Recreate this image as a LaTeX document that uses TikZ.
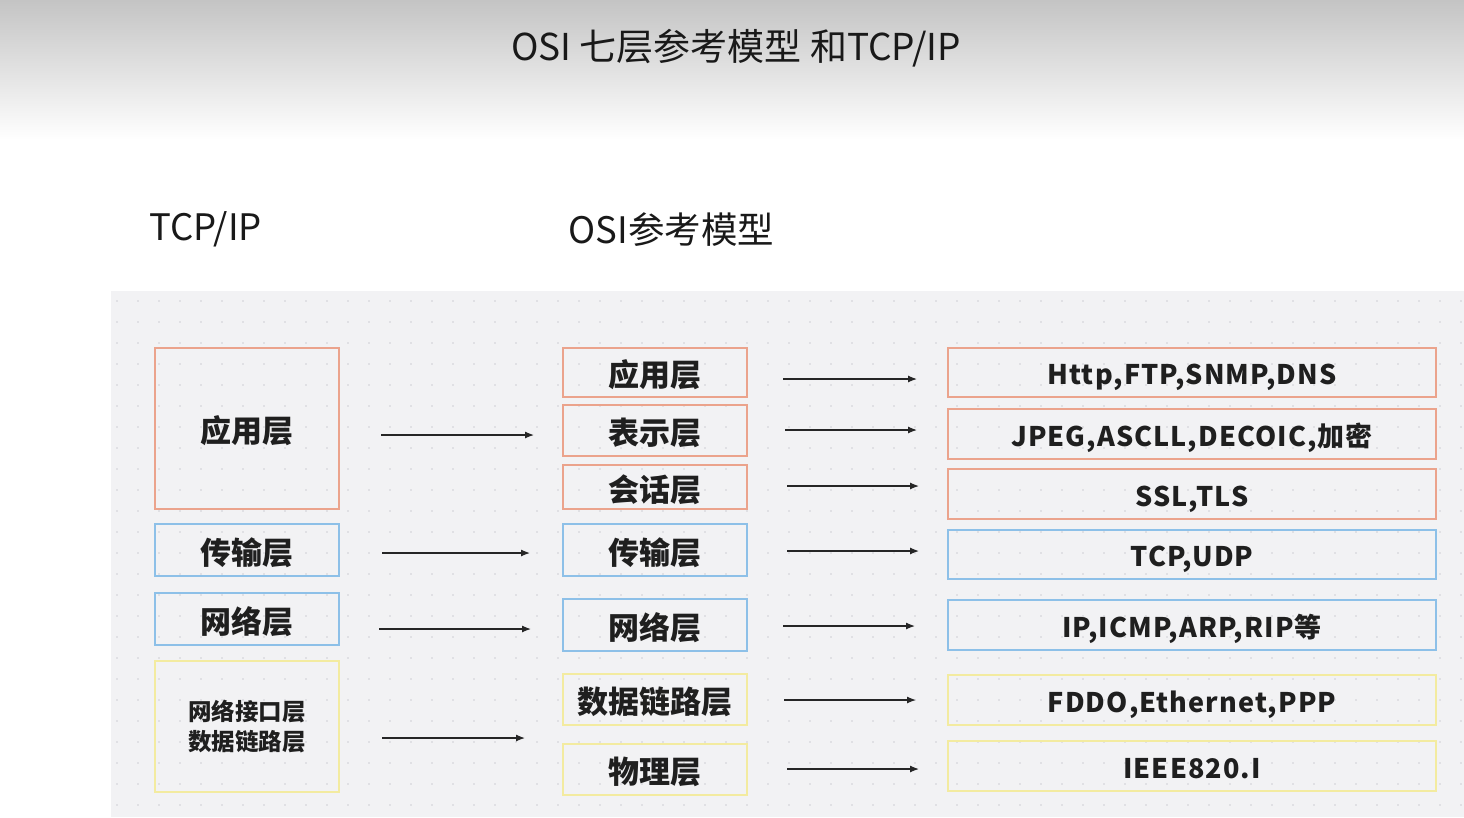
\documentclass[tikz,border=0pt]{standalone}
\usepackage{fontspec}
\setmainfont{Noto Sans CJK SC}
\newfontfamily\protofont{Noto Sans CJK SC}[LetterSpace=4]
\usetikzlibrary{arrows.meta}
\definecolor{panelbg}{HTML}{F2F2F4}
\definecolor{dotc}{HTML}{CFCFD4}
\definecolor{borange}{HTML}{EBA38C}
\definecolor{bblue}{HTML}{8DC0E8}
\definecolor{byellow}{HTML}{F3EBA0}
\definecolor{topgray}{HTML}{C4C4C4}
\tikzset{
  layer/.style={draw, line width=2pt, inner sep=0pt, text height=30pt, text depth=1.4pt,
    font=\bfseries\fontsize{31}{36}\selectfont, text=black!88},
  org/.style={layer, draw=borange},
  blu/.style={layer, draw=bblue},
  yel/.style={layer, draw=byellow},
  leftbox/.style={minimum width=184pt},
  midbox/.style={minimum width=184pt},
  rightbox/.style={minimum width=488pt},
  proto/.style={font=\protofont\fontsize{27}{34}\selectfont\bfseries, text height=26pt, text depth=2pt},
  arr/.style={-{Latex[length=9pt,width=7pt]}, line width=1.2pt, black!85},
  heading/.style={font=\fontsize{36.5}{42}\selectfont, text=black!90}
}
\begin{document}
\begin{tikzpicture}[x=1pt,y=-1pt]
\useasboundingbox (0,0) rectangle (1464,817);
\fill[white] (0,0) rectangle (1464,817);
\shade[top color=topgray, bottom color=white] (0,0) rectangle (1464,140);
\node[font=\fontsize{37}{42}\selectfont, text=black!90] (title) at (736,48) {OSI 七层参考模型 和TCP/IP};
\node[heading, anchor=west] (h1) at (146,229) {TCP/IP};
\node[heading, anchor=west] (h2) at (565,230) {OSI参考模型};
% panel
\fill[panelbg] (111,291) rectangle (1464,817);
\foreach \xx in {117,138,...,1464} {
  \foreach \yy in {301,322,...,817} {
    \fill[dotc] (\xx,\yy) circle (0.9pt);
  }
}
% left column
\node[org, leftbox, minimum height=161pt] (L1) at (247,428.5) {应用层};
\node[blu, leftbox, minimum height=52pt] (L2) at (247,550) {传输层};
\node[blu, leftbox, minimum height=52pt] (L3) at (247,619) {网络层};
\node[yel, leftbox, minimum height=131pt, align=center, text height=, text depth=,
  font=\bfseries\fontsize{23.5}{30}\selectfont] (L4) at (247,726.5) {网络接口层\\数据链路层};
% middle column
\node[org, midbox, minimum height=49pt] (M1) at (655,372.5) {应用层};
\node[org, midbox, minimum height=51pt] (M2) at (655,430.5) {表示层};
\node[org, midbox, minimum height=44pt] (M3) at (655,487) {会话层};
\node[blu, midbox, minimum height=52pt] (M4) at (655,550) {传输层};
\node[blu, midbox, minimum height=52pt] (M5) at (655,625) {网络层};
\node[yel, midbox, minimum height=51pt] (M6) at (655,699.5) {数据链路层};
\node[yel, midbox, minimum height=51pt] (M7) at (655,769.5) {物理层};
% right column
\node[org, rightbox, minimum height=49pt, proto] (R1) at (1192,372.5) {Http,FTP,SNMP,DNS};
\node[org, rightbox, minimum height=50pt, proto] (R2) at (1192,434) {JPEG,ASCLL,DECOIC,加密};
\node[org, rightbox, minimum height=50pt, proto] (R3) at (1192,494) {SSL,TLS};
\node[blu, rightbox, minimum height=49pt, proto] (R4) at (1192,554.5) {TCP,UDP};
\node[blu, rightbox, minimum height=50pt, proto] (R5) at (1192,625) {IP,ICMP,ARP,RIP等};
\node[yel, rightbox, minimum height=50pt, proto] (R6) at (1192,700) {FDDO,Ethernet,PPP};
\node[yel, rightbox, minimum height=50pt, proto] (R7) at (1192,766) {IEEE820.I};
% arrows left -> middle
\draw[arr] ([shift={(41,6.5)}]L1.east) -- ([shift={(-28,4.5)}]M2.west);
\draw[arr] ([shift={(42,3)}]L2.east) -- ([shift={(-32,3)}]M4.west);
\draw[arr] ([shift={(39,10)}]L3.east) -- ([shift={(-31,4)}]M5.west);
\draw[arr] ([shift={(42,11.5)}]L4.east) -- ([shift={(-37,38.5)}]M6.west);
% arrows middle -> right
\draw[arr] ([shift={(35,6.5)}]M1.east) -- ([shift={(-30,6.5)}]R1.west);
\draw[arr] ([shift={(37,-0.5)}]M2.east) -- ([shift={(-30,-4)}]R2.west);
\draw[arr] ([shift={(39,-1)}]M3.east) -- ([shift={(-28,-8)}]R3.west);
\draw[arr] ([shift={(39,1)}]M4.east) -- ([shift={(-28,-3.5)}]R4.west);
\draw[arr] ([shift={(35,1)}]M5.east) -- ([shift={(-32,1)}]R5.west);
\draw[arr] ([shift={(36,0.5)}]M6.east) -- ([shift={(-31,0)}]R6.west);
\draw[arr] ([shift={(39,-0.5)}]M7.east) -- ([shift={(-28,3)}]R7.west);
\end{tikzpicture}
\end{document}
